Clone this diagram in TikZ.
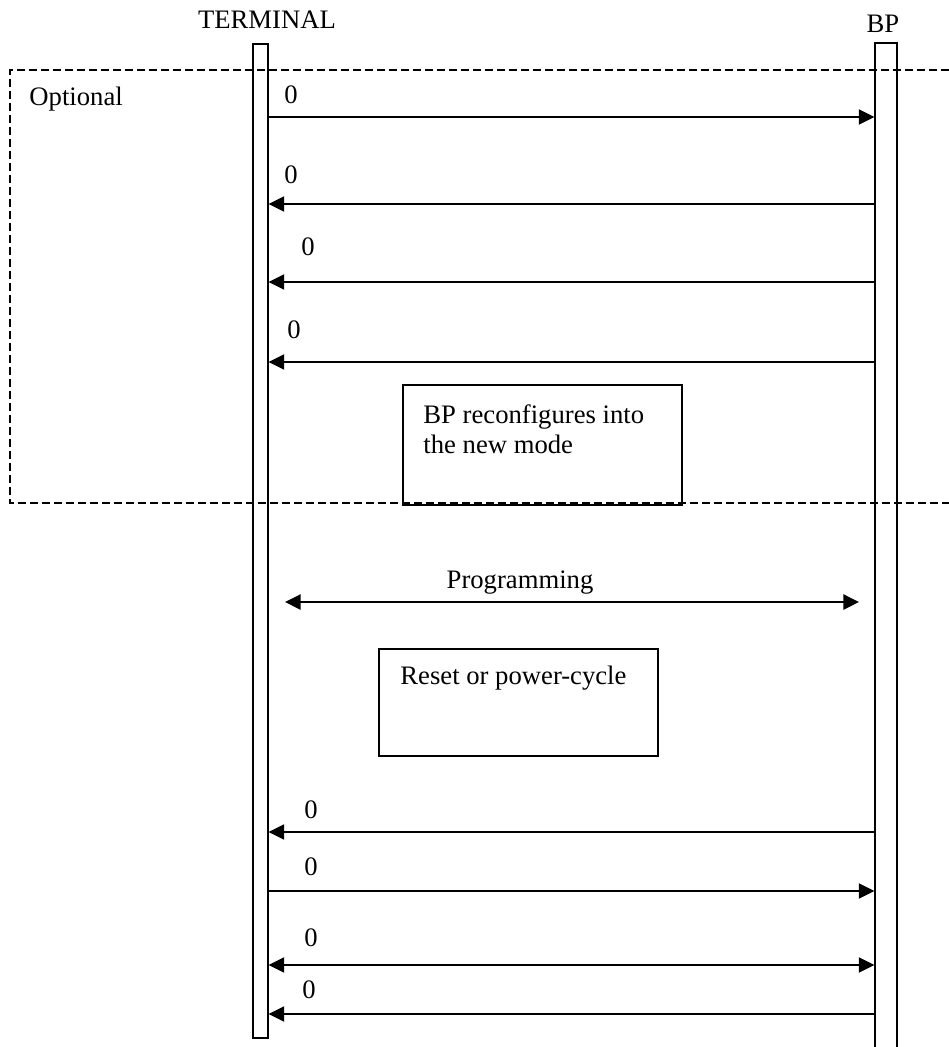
\documentclass[tikz,border=0pt]{standalone}
\usepackage{fontspec}
\setmainfont{Liberation Serif}
\usetikzlibrary{positioning, arrows.meta, fit}

\begin{document}
\begin{tikzpicture}[
    x=0.45pt, y=-0.45pt,
    >={Triangle[length=7pt,width=6.8pt]},
    font=\fontsize{12}{13.5}\selectfont,
    lifeline/.style={draw, line width=0.6pt, inner sep=0pt},
    note/.style={draw, line width=0.6pt, inner sep=0pt},
    txt/.style={inner sep=0pt, align=left},
    msg/.style={inner sep=0pt},
    arr/.style={line width=0.8pt},
    optframe/.style={line width=0.6pt, dash pattern=on 3.6pt off 1.8pt},
  ]
  \useasboundingbox (0,0) rectangle (949,1047);

  % Lifelines
  \node[lifeline, fit={(253,44) (268,1038)}] (term) {};
  \node[lifeline, fit={(875,43) (897,1062)}] (bp) {};
  \node[anchor=base] (termlbl) at (267,28) {TERMINAL};
  \node[anchor=base] (bplbl) at (883,32) {BP};

  % Optional part
  \draw[optframe] (949,70) -| (10,503) -- (949,503);
  \node[txt, anchor=base west] (optlbl) at (29,105) {Optional};

  \coordinate (m1) at (0,117);
  \coordinate (m2) at (0,204);
  \coordinate (m3) at (0,282);
  \coordinate (m4) at (0,362);
  \node[msg] (l1) at (291,95) {0};
  \node[msg] (l2) at (291,175) {0};
  \node[msg] (l3) at (308,247) {0};
  \node[msg] (l4) at (294,330) {0};
  \draw[arr, ->] (term.east |- m1) -- (bp.west |- m1);
  \draw[arr, <-] (term.east |- m2) -- (bp.west |- m2);
  \draw[arr, <-] (term.east |- m3) -- (bp.west |- m3);
  \draw[arr, <-] (term.east |- m4) -- (bp.west |- m4);

  \node[note, fit={(403,385) (682,505)}] (recfg) {};
  \node[txt, anchor=north west] (recfgtxt) at (423,404) {BP reconfigures into\\the new mode};

  % Programming
  \coordinate (progL) at (285,602);
  \coordinate (progR) at (859,602);
  \draw[arr, <->] (progL) -- (progR);
  \node[anchor=base] (proglbl) at (520,588) {Programming};

  \node[note, fit={(379,649) (658,756)}] (reset) {};
  \node[txt, anchor=base west] (resettxt) at (400,684) {Reset or power-cycle};

  % After reset
  \coordinate (m5) at (0,832);
  \coordinate (m6) at (0,891);
  \coordinate (m7) at (0,965);
  \coordinate (m8) at (0,1014);
  \node[msg] (l5) at (311,810) {0};
  \node[msg] (l6) at (311,867) {0};
  \node[msg] (l7) at (311,938) {0};
  \node[msg] (l8) at (309,990) {0};
  \draw[arr, <-] (term.east |- m5) -- (bp.west |- m5);
  \draw[arr, ->] (term.east |- m6) -- (bp.west |- m6);
  \draw[arr, <->] (term.east |- m7) -- (bp.west |- m7);
  \draw[arr, <-] (term.east |- m8) -- (bp.west |- m8);

\end{tikzpicture}
\end{document}
